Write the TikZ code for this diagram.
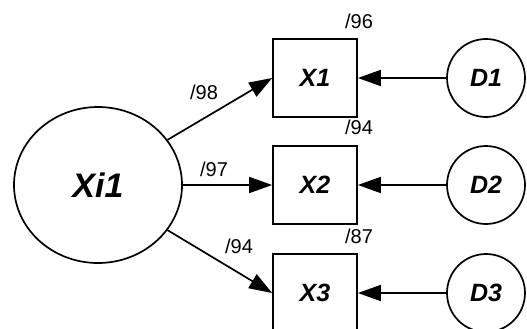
\documentclass[tikz,border=0pt]{standalone}
\usepackage{fontspec}
\setmainfont{Liberation Sans}
\usetikzlibrary{arrows.meta,shapes.geometric}

\begin{document}
\begin{tikzpicture}[x=1pt, y=-1pt]
  \tikzstyle{latent}=[draw, line width=1.7pt, ellipse, minimum width=168pt, minimum height=156pt, inner sep=0, font=\fontsize{34}{34}\selectfont\bfseries\itshape];
  \tikzstyle{mesure}=[draw, line width=1.7pt, rectangle, minimum width=84pt, minimum height=78pt, inner sep=0, font=\fontsize{25}{25}\selectfont\bfseries\itshape];
  \tikzstyle{erreur}=[draw, line width=1.7pt, circle, minimum size=78pt, inner sep=0, font=\fontsize{25}{25}\selectfont\bfseries\itshape];
  \tikzstyle{poids}=[inner sep=0, font=\fontsize{20}{20}\selectfont];
  \tikzstyle{fleche}=[line width=1.7pt, -{Triangle[length=23pt, width=16pt]}];

  \useasboundingbox (0,0) rectangle (527,329);

  \node[latent] (Xi) at (98,185) {Xi1};

  \node[mesure] (X1) at (315,78) {X1};
  \node[mesure] (X2) at (315,185) {X2};
  \node[mesure] (X3) at (315,293) {X3};

  \node[erreur] (D1) at (486,78) {D1};
  \node[erreur] (D2) at (486,185) {D2};
  \node[erreur] (D3) at (486,293) {D3};

  \draw[fleche] (Xi.33) -- (X1.west);
  \draw[fleche] (Xi.east) -- (X2.west);
  \draw[fleche] (Xi.-33) -- (X3.west);

  \draw[fleche] (D1.west) -- (X1.east);
  \draw[fleche] (D2.west) -- (X2.east);
  \draw[fleche] (D3.west) -- (X3.east);

  \node[poids] (p1) at (204,92) {/98};
  \node[poids] (p2) at (214,169) {/97};
  \node[poids] (p3) at (239,246) {/94};
  \node[poids] (r1) at (359,21) {/96};
  \node[poids] (r2) at (359,127) {/94};
  \node[poids] (r3) at (359,236) {/87};
\end{tikzpicture}
\end{document}
